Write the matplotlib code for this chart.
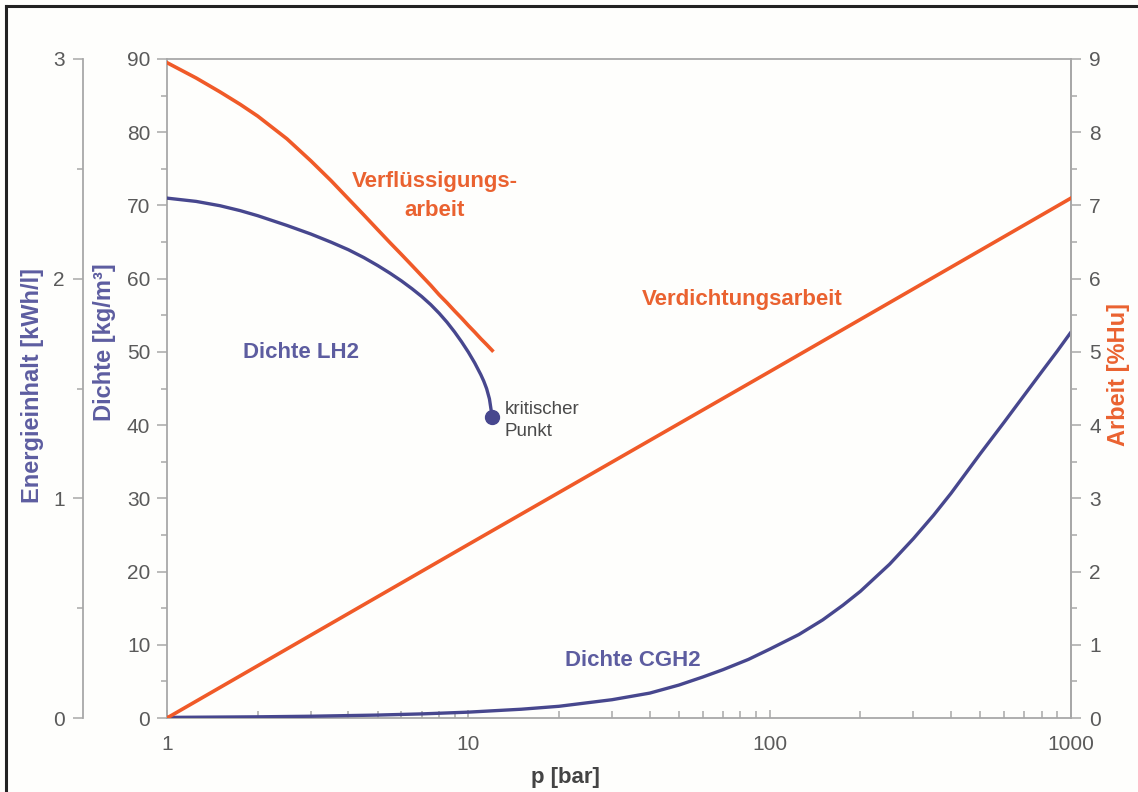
import matplotlib
matplotlib.use('Agg')
import matplotlib.pyplot as plt
from matplotlib.ticker import MultipleLocator, FixedLocator, LogLocator, NullFormatter, FixedFormatter
from matplotlib.lines import Line2D

# ---------------- data ----------------
# Verflüssigungsarbeit (liquefaction work) [%Hu] vs p [bar]
p_liq = [1, 1.25, 1.5, 1.75, 2, 2.5, 3, 3.5, 4, 4.5, 5, 5.5, 6, 6.5, 7, 7.5, 8, 8.5,
         9, 9.5, 10, 10.5, 11, 11.5, 12]
verfluessigung = [8.95, 8.74, 8.55, 8.38, 8.22, 7.91, 7.61, 7.34, 7.09, 6.87, 6.67, 6.49,
                  6.33, 6.18, 6.04, 5.91, 5.78, 5.67, 5.56, 5.46, 5.36, 5.27, 5.18, 5.10, 5.02]

# Dichte LH2 [kg/m3]
p_lh2 = [1, 1.25, 1.5, 1.75, 2, 2.5, 3, 3.5, 4, 4.5, 5, 5.5, 6, 6.5, 7, 7.5, 8, 8.5,
         9, 9.5, 10, 10.5, 11, 11.25, 11.5, 11.75, 12]
dichte_lh2 = [71.0, 70.55, 69.96, 69.29, 68.60, 67.27, 66.10, 64.99, 63.95, 62.88, 61.80,
              60.74, 59.69, 58.63, 57.57, 56.46, 55.28, 54.04, 52.73, 51.37, 49.97, 48.49,
              46.89, 46.01, 44.98, 43.58, 41.1]

# critical point
p_krit = [12]
dichte_krit = [41.1]

# Dichte CGH2 [kg/m3]
p_cgh2 = [1, 2, 3, 5, 7, 10, 15, 20, 30, 40, 50, 60, 70, 85, 100, 125, 150, 175, 200,
          250, 300, 350, 400, 500, 600, 700, 800, 900, 1000]
dichte_cgh2 = [0.08, 0.16, 0.24, 0.4, 0.56, 0.8, 1.2, 1.6, 2.5, 3.4, 4.5, 5.6, 6.6, 8.0,
               9.4, 11.4, 13.4, 15.4, 17.3, 21.0, 24.5, 27.7, 30.7, 36.1, 40.4, 44.1,
               47.3, 50.1, 52.7]

# Verdichtungsarbeit (compression work) [%Hu]
p_comp = [1, 10, 100, 1000]
verdichtung = [0.0, 2.37, 4.73, 7.1]

x_ticks = [1, 10, 100, 1000]
x_ticklabels = ['1', '10', '100', '1000']

# ---------------- style ----------------
W, H = 1138, 792
FONT = 'Liberation Sans'
plt.rcParams['font.family'] = [FONT, 'DejaVu Sans']

BLUE_LINE = '#47478e'
BLUE_TXT = '#5d5da0'
ORANGE_LINE = '#f05a28'
ORANGE_TXT = '#ea6230'
TICK_TXT = '#5a5a5a'
SPINE = '#a8a8a8'

fig = plt.figure(figsize=(W / 100, H / 100), dpi=100)
fig.patch.set_facecolor('#fefefc')

L, R, T, B = 167, 1071, 59, 718
ax = fig.add_axes([L / W, 1 - B / H, (R - L) / W, (B - T) / H])
ax.set_facecolor('none')
ax.set_xscale('log')
ax.set_xlim(1, 1000)
ax.set_ylim(0, 90)

for s in ['left', 'right', 'top', 'bottom']:
    ax.spines[s].set_color(SPINE)
    ax.spines[s].set_linewidth(1.3)

ax.yaxis.set_major_locator(MultipleLocator(10))
ax.yaxis.set_minor_locator(MultipleLocator(5))
ax.tick_params(axis='y', which='both', direction='out', color=SPINE, width=1.1,
               labelsize=15, labelcolor=TICK_TXT, pad=5)
ax.tick_params(axis='y', which='major', length=7)
ax.tick_params(axis='y', which='minor', length=4)

# right axis: Arbeit
ax_r = ax.twinx()
ax_r.set_ylim(0, 9)
for s in ['left', 'top', 'bottom']:
    ax_r.spines[s].set_visible(False)
ax_r.spines['right'].set_color(SPINE)
ax_r.spines['right'].set_linewidth(1.3)
ax_r.yaxis.set_major_locator(MultipleLocator(1))
ax_r.yaxis.set_minor_locator(MultipleLocator(0.5))
ax_r.tick_params(axis='y', which='both', direction='out', color=SPINE, width=1.1,
                 labelsize=15, labelcolor=TICK_TXT, pad=6)
ax_r.tick_params(axis='y', which='major', length=7)
ax_r.tick_params(axis='y', which='minor', length=4)

# far-left axis: Energieinhalt
ax_e = ax.twinx()
ax_e.set_ylim(0, 3)
ax_e.spines['left'].set_position(('axes', (83 - L) / (R - L)))
ax_e.spines['left'].set_visible(True)
ax_e.spines['left'].set_color(SPINE)
ax_e.spines['left'].set_linewidth(1.3)
for s in ['right', 'top', 'bottom']:
    ax_e.spines[s].set_visible(False)
ax_e.yaxis.set_ticks_position('left')
ax_e.yaxis.set_label_position('left')
ax_e.yaxis.set_major_locator(MultipleLocator(1))
ax_e.yaxis.set_minor_locator(MultipleLocator(0.5))
ax_e.tick_params(axis='y', which='both', direction='out', color=SPINE, width=1.1,
                 labelsize=15, labelcolor=TICK_TXT, pad=6)
ax_e.tick_params(axis='y', which='major', length=7)
ax_e.tick_params(axis='y', which='minor', length=4)

# x axis ticks (set after the twins so the log formatter is not restored)
ax.xaxis.set_major_locator(FixedLocator(x_ticks))
ax.xaxis.set_major_formatter(FixedFormatter(x_ticklabels))
ax.xaxis.set_minor_locator(LogLocator(base=10, subs=range(2, 10)))
ax.xaxis.set_minor_formatter(NullFormatter())
ax.tick_params(axis='x', which='both', direction='in', color=SPINE, width=1.1,
               labelsize=15, labelcolor=TICK_TXT, pad=12)
ax.tick_params(axis='x', which='major', length=6)
ax.tick_params(axis='x', which='minor', length=5)

# ---------------- curves ----------------
ax.plot(p_cgh2, dichte_cgh2, color=BLUE_LINE, lw=2.4, solid_capstyle='round',
        solid_joinstyle='round', zorder=3)
ax.plot(p_lh2, dichte_lh2, color=BLUE_LINE, lw=2.4, solid_capstyle='round',
        solid_joinstyle='round', zorder=3)
ax.plot(p_krit, dichte_krit, 'o', color=BLUE_LINE, markersize=10, zorder=4)
ax_r.plot(p_liq, verfluessigung, color=ORANGE_LINE, lw=2.6, solid_joinstyle='round', zorder=3)
ax_r.plot(p_comp, verdichtung, color=ORANGE_LINE, lw=2.6, zorder=3)


def ftext(x, y, s, **kw):
    fig.text(x / W, 1 - y / H, s, **kw)


# ---------------- annotations ----------------
bold = dict(fontsize=16, fontweight='bold', ha='center', va='center')
ftext(435, 181, 'Verflüssigungs-', color=ORANGE_TXT, **bold)
ftext(435, 210, 'arbeit', color=ORANGE_TXT, **bold)
ftext(742, 300, 'Verdichtungsarbeit', color=ORANGE_TXT, **bold)
ftext(301, 353, 'Dichte LH2', color=BLUE_TXT, **bold)
ftext(633, 661, 'Dichte CGH2', color=BLUE_TXT, **bold)
ftext(505, 409, 'kritischer', color='#4a4a4a', fontsize=13.5, ha='left', va='center')
ftext(505, 432, 'Punkt', color='#4a4a4a', fontsize=13.5, ha='left', va='center')

# axis labels
ftext(33, 385, 'Energieinhalt [kWh/l]', color=BLUE_TXT, fontsize=17, fontweight='bold',
      rotation=90, ha='center', va='center')
ftext(105, 342, 'Dichte [kg/m³]', color=BLUE_TXT, fontsize=17, fontweight='bold',
      rotation=90, ha='center', va='center')
ftext(1118, 375, 'Arbeit [%Hu]', color=ORANGE_TXT, fontsize=17, fontweight='bold',
      rotation=90, ha='center', va='center')
ftext(565, 777, 'p [bar]', color='#444444', fontsize=16, fontweight='bold',
      ha='center', va='center')

# scanned-image frame (left and top edges)
fig.add_artist(Line2D([6 / W, 6 / W], [0, 1 - 6 / H], transform=fig.transFigure,
                      color='#222222', lw=2.2))
fig.add_artist(Line2D([6 / W, 1], [1 - 6 / H, 1 - 6 / H], transform=fig.transFigure,
                      color='#222222', lw=2.2))

fig.savefig('out.png', dpi=100, facecolor=fig.get_facecolor())
